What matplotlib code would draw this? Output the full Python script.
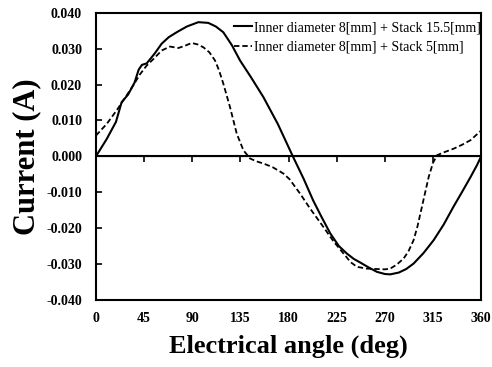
import numpy as np
import matplotlib
matplotlib.use("Agg")
import matplotlib.pyplot as plt

plt.rcParams['font.family'] = ['Liberation Serif', 'DejaVu Serif']

# stack 15.5 mm (solid)
ang_a = [0, 10, 18.7, 24, 30, 36, 40, 43, 47.4, 55, 61.4, 68, 75.5, 85, 95.7, 105, 112, 119,
         127, 134.7, 145, 156.5, 170, 184, 194, 203, 211, 219, 227, 234.5, 241, 247, 255,
         262.6, 270, 275, 283, 290, 296.8, 306, 315.5, 325, 334, 342, 350, 356, 360]
cur_a = [0, 0.0048, 0.0096, 0.0151, 0.0172, 0.0205, 0.0242, 0.0255, 0.0259, 0.0287, 0.0314,
         0.0332, 0.0346, 0.0362, 0.0374, 0.0372, 0.0362, 0.0346, 0.0310, 0.0267,
         0.0220, 0.0165, 0.0090, 0.0, -0.0062, -0.0123, -0.0170, -0.0215, -0.0250,
         -0.0271, -0.0286, -0.0296, -0.0310, -0.0322, -0.0328, -0.0329, -0.0324, -0.0314,
         -0.0299, -0.0270, -0.0234, -0.0190, -0.0141, -0.0100, -0.0058, -0.0025, 0.0]

# stack 5 mm (dashed)
ang_b = [0, 10, 19.3, 25.6, 34.9, 41, 47.4, 55, 61.4, 69.2, 77, 83, 89.5, 95, 100.4,
         106, 111.3, 115, 119, 125.3, 131.6, 137.8, 144, 150, 156.5, 165, 175.2, 181,
         190.8, 200, 212.6, 222, 231.4, 238, 243.9, 253.2, 262, 270, 275, 281, 287.5,
         292, 296.8, 300.5, 304.6, 310.9, 315, 318.7, 325, 334, 342, 350, 360]
cur_b = [0.0058, 0.0090, 0.0128, 0.0156, 0.0198, 0.0228, 0.0253, 0.0275, 0.0295,
         0.0306, 0.0302, 0.0308, 0.0316, 0.0312, 0.0304, 0.0290, 0.0267, 0.0240,
         0.0203, 0.0137, 0.0063, 0.0017, -0.0006, -0.0014, -0.0020, -0.0030, -0.0048,
         -0.0064, -0.0104, -0.0145, -0.0197, -0.0237, -0.0271, -0.0295, -0.0308,
         -0.0313, -0.0314, -0.0315, -0.0313, -0.0302, -0.0285, -0.0265, -0.0234,
         -0.0195, -0.0141, -0.0058, -0.0018, 0.0003, 0.0011, 0.0021, 0.0032, 0.0045, 0.0072]

labels = ["Inner diameter 8[mm] + Stack 15.5[mm]",
          "Inner diameter 8[mm] + Stack 5[mm]"]
xticks = [0, 45, 90, 135, 180, 225, 270, 315, 360]
yticks = np.arange(-0.04, 0.0401, 0.01)

fig, ax = plt.subplots(figsize=(4.92, 3.67), dpi=100)
fig.subplots_adjust(left=0.195, right=0.978, top=0.965, bottom=0.183)

ax.plot(ang_a, cur_a, color="black", lw=1.5, label=labels[0])
ax.plot(ang_b, cur_b, color="black", lw=1.3, ls=(0, (3, 1.6)), label=labels[1])
ax.axhline(0, color="black", lw=1.5)

ax.set_xlim(0, 360)
ax.set_ylim(-0.04, 0.04)
ax.set_xticks(xticks)
ax.set_yticks(yticks)
ax.set_yticklabels([f"{v:.3f}" for v in yticks])
ax.tick_params(axis="x", length=0, pad=9, labelsize=10)
ax.tick_params(axis="y", direction="in", length=4, width=1.2, labelsize=10, pad=10)
for lab in ax.get_xticklabels() + ax.get_yticklabels():
    lab.set_fontweight("bold")

# tick marks on the zero line
sec = ax.secondary_xaxis(0.5)
sec.set_xticks(xticks)
sec.set_xticklabels([])
sec.tick_params(direction="in", length=4, width=1.2)
sec.spines["bottom"].set_visible(False)

for s in ax.spines.values():
    s.set_linewidth(1.5)

ax.set_xlabel("Electrical angle (deg)", fontsize=19, fontweight="bold", labelpad=7)
ax.set_ylabel("Current (A)", fontsize=22, fontweight="bold", labelpad=4)

ax.legend(loc="upper right", frameon=False, fontsize=10, handlelength=1.3,
          handletextpad=0.15, borderaxespad=0.2, labelspacing=0.45,
          bbox_to_anchor=(1.02, 1.0))

fig.savefig("out.png", dpi=100)
